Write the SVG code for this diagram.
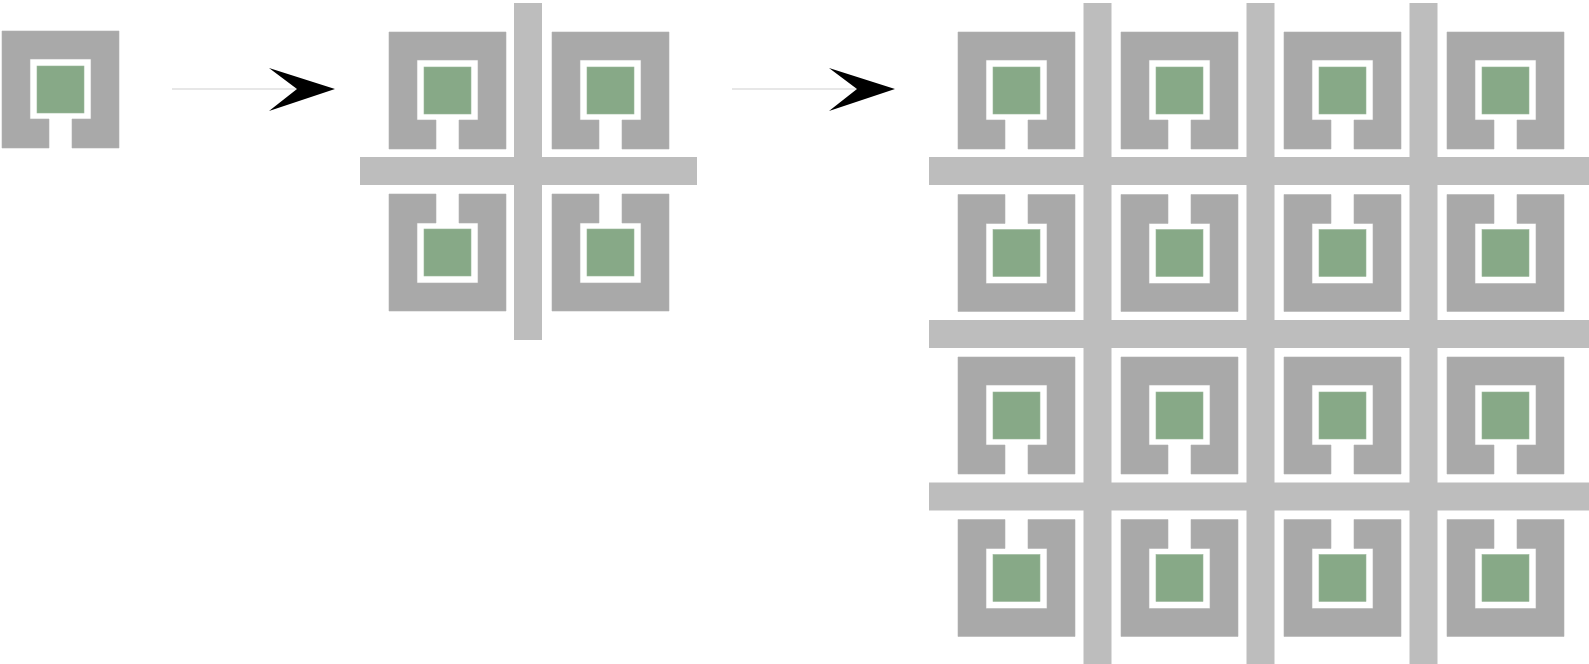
<svg xmlns="http://www.w3.org/2000/svg" xmlns:xlink="http://www.w3.org/1999/xlink" width="1589" height="664" viewBox="0 0 1589 664">
<style>
.frame{fill:#a9a9a9;stroke:#b4b4b4;stroke-width:0.6}
.core{fill:#87a987;stroke:#9cb89c;stroke-width:0.6}
.bar{fill:#bdbdbd}
.shaft{stroke:#cfcfcf;stroke-width:1;fill:none}
.head{fill:#000}
</style>
<defs>
<g id="cell">
<path class="frame" d="M0,0 H117 V117 H70 V88 H89 V28 H28 V88 H47 V117 H0 Z"/>
<rect class="core" x="35" y="35" width="47" height="47"/>
</g>
</defs>
<rect width="1589" height="664" fill="#fff"/>
<g id="connectors">
<line class="shaft" x1="172" y1="89" x2="300" y2="89"/>
<polygon class="head" points="335,89 269,68 297,89 269,111"/>
<line class="shaft" x1="732" y1="89" x2="860" y2="89"/>
<polygon class="head" points="895,89 829,68 857,89 829,111"/>
</g>
<g id="single">
<use xlink:href="#cell" transform="translate(2,31)"/>
</g>
<g id="quad">
<rect class="bar" x="514" y="3" width="28" height="337"/>
<rect class="bar" x="360" y="157" width="337" height="28"/>
<use xlink:href="#cell" transform="translate(389,32)"/>
<use xlink:href="#cell" transform="translate(552,32)"/>
<use xlink:href="#cell" transform="translate(389,311) scale(1,-1)"/>
<use xlink:href="#cell" transform="translate(552,311) scale(1,-1)"/>
</g>
<g id="grid16">
<rect class="bar" x="1083.5" y="3" width="28" height="661"/>
<rect class="bar" x="1246.5" y="3" width="28" height="661"/>
<rect class="bar" x="1409.5" y="3" width="28" height="661"/>
<rect class="bar" x="929" y="157" width="660" height="28"/>
<rect class="bar" x="929" y="320" width="660" height="28"/>
<rect class="bar" x="929" y="482.5" width="660" height="28"/>
<use xlink:href="#cell" transform="translate(958,32)"/>
<use xlink:href="#cell" transform="translate(1121,32)"/>
<use xlink:href="#cell" transform="translate(1284,32)"/>
<use xlink:href="#cell" transform="translate(1447,32)"/>
<use xlink:href="#cell" transform="translate(958,311.5) scale(1,-1)"/>
<use xlink:href="#cell" transform="translate(1121,311.5) scale(1,-1)"/>
<use xlink:href="#cell" transform="translate(1284,311.5) scale(1,-1)"/>
<use xlink:href="#cell" transform="translate(1447,311.5) scale(1,-1)"/>
<use xlink:href="#cell" transform="translate(958,357)"/>
<use xlink:href="#cell" transform="translate(1121,357)"/>
<use xlink:href="#cell" transform="translate(1284,357)"/>
<use xlink:href="#cell" transform="translate(1447,357)"/>
<use xlink:href="#cell" transform="translate(958,636.5) scale(1,-1)"/>
<use xlink:href="#cell" transform="translate(1121,636.5) scale(1,-1)"/>
<use xlink:href="#cell" transform="translate(1284,636.5) scale(1,-1)"/>
<use xlink:href="#cell" transform="translate(1447,636.5) scale(1,-1)"/>
</g>
</svg>
